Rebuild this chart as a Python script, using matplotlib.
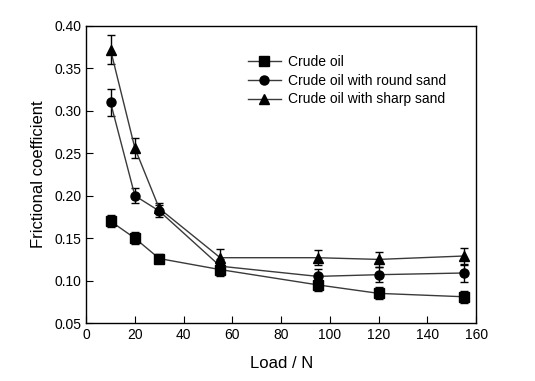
import numpy as np
import matplotlib.pyplot as plt

plt.rcParams['font.family'] = ['Liberation Sans', 'DejaVu Sans']

# Data
load = [10, 20, 30, 55, 95, 120, 155]
crude = [0.170, 0.150, 0.126, 0.113, 0.095, 0.085, 0.081]
crude_err = [0.007, 0.007, 0.005, 0.007, 0.007, 0.007, 0.007]
round_sand = [0.310, 0.200, 0.182, 0.117, 0.105, 0.107, 0.109]
round_err = [0.016, 0.009, 0.007, 0.009, 0.009, 0.009, 0.011]
sharp_sand = [0.372, 0.256, 0.185, 0.127, 0.127, 0.125, 0.129]
sharp_err = [0.017, 0.012, 0.007, 0.010, 0.009, 0.009, 0.010]

fig = plt.figure(figsize=(5.35, 3.81), dpi=100)
ax = fig.add_axes([0.161, 0.152, 0.729, 0.780])

series = [
    (crude, crude_err, 's', 'Crude oil'),
    (round_sand, round_err, 'o', 'Crude oil with round sand'),
    (sharp_sand, sharp_err, '^', 'Crude oil with sharp sand'),
]
for vals, err, m, lab in series:
    # error bars drawn separately so the legend shows only line + marker
    ax.errorbar(load, vals, yerr=err, fmt='none', ecolor='black',
                elinewidth=1, capsize=3, capthick=1)
    ax.plot(load, vals, marker=m, color='#3a3a3a', mfc='black', mec='black',
            ms=6.5, lw=1, label=lab)

ax.set_xlim(0, 160)
ax.set_ylim(0.05, 0.40)
ax.set_xticks(np.arange(0, 161, 20))
ax.set_yticks(np.arange(0.05, 0.401, 0.05))
ax.set_yticklabels([f'{v:.2f}' for v in np.arange(0.05, 0.401, 0.05)])
ax.tick_params(direction='in', length=5, labelsize=10, colors='black')
for s in ax.spines.values():
    s.set_linewidth(1)

ax.set_xlabel('Load / N', fontsize=12, labelpad=10)
ax.set_ylabel('Frictional coefficient', fontsize=12, labelpad=6)

ax.legend(loc='upper right', bbox_to_anchor=(0.955, 0.945), frameon=False, fontsize=10,
          handlelength=2.4, handletextpad=0.5, labelspacing=0.35)

fig.savefig('out.png', dpi=100)
